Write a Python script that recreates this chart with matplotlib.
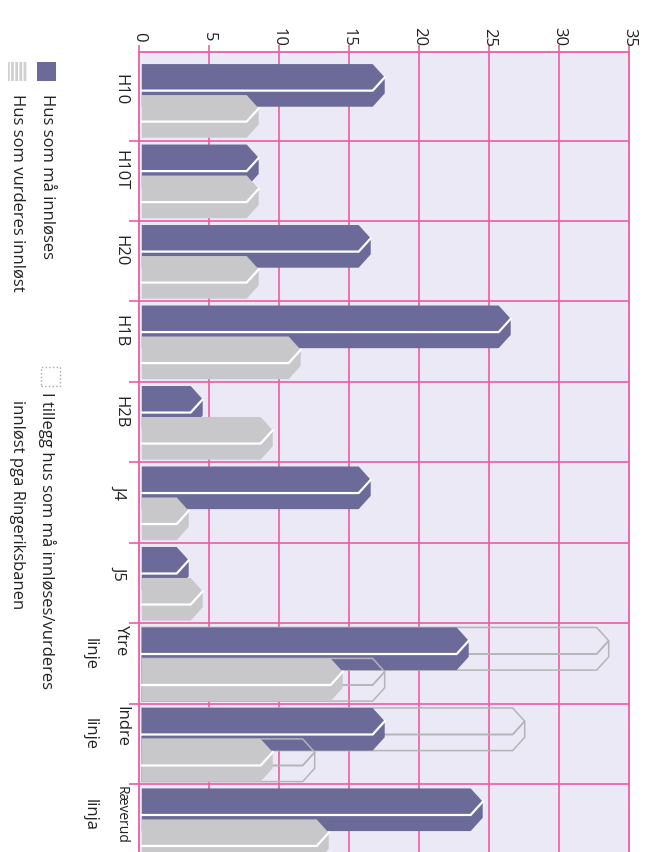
import matplotlib
matplotlib.use('Agg')
import matplotlib.pyplot as plt
from matplotlib.patches import Polygon, Rectangle
import matplotlib.transforms as mtransforms

# ---------------- data ----------------
categories = ['H10', 'H10T', 'H20', 'H1B', 'H2B', 'J4', 'J5',
              'Ytre\nlinje', 'Indre\nlinje', 'Ræverud\nlinja']
must_redeem = [17, 8, 16, 26, 4, 16, 3, 23, 17, 24]          # Hus som må innløses
considered = [8, 8, 8, 11, 9, 3, 4, 14, 9, 13]               # Hus som vurderes innløst
extra_must = [0, 0, 0, 0, 0, 0, 0, 10, 10, 0]                # I tillegg (må innløses)
extra_considered = [0, 0, 0, 0, 0, 0, 0, 3, 3, 0]            # I tillegg (vurderes)
value_ticks = [0, 5, 10, 15, 20, 25, 30, 35]
legend_labels = ['Hus som må innløses', 'Hus som vurderes innløst',
                 'I tillegg hus som må innløses/vurderes\ninnløst pga Ringeriksbanen']

# ---------------- style ----------------
DARK = '#6b6a99'
GREY = '#c8c8ca'
BG = '#ebe9f5'
PINK = '#ec5da3'
OUTLINE = '#b4b4b8'
FONT = 'Open Sans'
FS = 12
TXT = '#222222'

W, H = 652, 852
fig = plt.figure(figsize=(W / 100, H / 100), dpi=100)
fig.patch.set_facecolor('white')


def fx(px):
    return px / W


def fy(py):
    return 1 - py / H


ax = fig.add_axes([fx(139), fy(852), fx(629) - fx(139), fy(52) - fy(852)])
ax.set_xlim(0, 35)
ax.set_ylim(9.84, -0.1)
ax.set_facecolor(BG)

for s in ['left', 'top', 'right']:
    ax.spines[s].set_color(PINK)
    ax.spines[s].set_linewidth(1.3)
ax.spines['bottom'].set_visible(False)

ax.xaxis.tick_top()
ax.set_xticks(value_ticks)
ax.set_xticklabels([])
ax.tick_params(axis='x', which='both', direction='out', length=5, color=PINK,
               width=1.2, top=True, bottom=False)
ax.set_yticks(range(1, len(categories)))
ax.set_yticklabels([])
ax.tick_params(axis='y', direction='out', length=7, color=PINK, width=1.2)

for v in value_ticks[1:-1]:
    ax.axvline(v, color=PINK, lw=1.2, zorder=1)
for k in range(1, len(categories)):
    ax.axhline(k, color=PINK, lw=1.2, zorder=1)

# bar geometry (in band units / value units)
A = 0.86      # length of pointed tip
HF = 0.33     # front face height
D = 0.20      # depth (side face)
TIP = 0.55    # tip beyond value
X0 = 0.2      # small gap from axis
TOP_DARK = 0.05
TOP_GREY = 0.435


def shapes(x_end, top):
    t = x_end + TIP
    front = [(X0, top), (t - A, top), (t, top + HF / 2), (t - A, top + HF), (X0, top + HF)]
    side = [(X0, top + HF), (t - A, top + HF), (t, top + HF / 2), (t, top + HF / 2 + D),
            (t - A, top + HF + D), (X0, top + HF + D)]
    edge = [(X0, top + HF), (t - A, top + HF), (t, top + HF / 2)]
    return front, side, edge


def solid(x_end, top, color, z):
    front, side, edge = shapes(x_end, top)
    ax.add_patch(Polygon(side, closed=True, facecolor=color, edgecolor='none', zorder=z))
    ax.add_patch(Polygon(front, closed=True, facecolor=color, edgecolor='none', zorder=z + 0.1))
    xs, ys = zip(*edge)
    ax.plot(xs, ys, color='white', lw=1.6, zorder=z + 0.2, solid_joinstyle='miter')


def outline(x_end, top, z):
    front, side, edge = shapes(x_end, top)
    ax.add_patch(Polygon(side, closed=True, facecolor='none', edgecolor=OUTLINE, lw=1.1, zorder=z))
    ax.add_patch(Polygon(front, closed=True, facecolor='none', edgecolor=OUTLINE, lw=1.1, zorder=z))


for k in range(len(categories)):
    if extra_must[k] > 0:
        outline(must_redeem[k] + extra_must[k], k + TOP_DARK, 2)
    solid(must_redeem[k], k + TOP_DARK, DARK, 3)
    if extra_considered[k] > 0:
        outline(considered[k] + extra_considered[k], k + TOP_GREY, 4)
    solid(considered[k], k + TOP_GREY, GREY, 5)

# value tick labels (rotated)
tr_x = mtransforms.blended_transform_factory(ax.transData, fig.transFigure)
for v in value_ticks:
    ax.text(v, fy(37), str(v), transform=tr_x, rotation=-90, rotation_mode='anchor',
            ha='center', va='center', fontsize=FS, family=FONT, color=TXT, clip_on=False)

# category labels (rotated)
tr_y = mtransforms.blended_transform_factory(fig.transFigure, ax.transData)
for k, lab in enumerate(categories):
    lines = lab.split('\n')
    if len(lines) == 1:
        ax.text(fx(120), k + 0.37, lines[0], transform=tr_y, rotation=-90, rotation_mode='anchor',
                ha='center', va='center', fontsize=FS, family=FONT, color=TXT, clip_on=False)
    else:
        fs = FS if len(lines[0]) < 6 else 10
        ax.text(fx(121), k + 0.02, lines[0], transform=tr_y, rotation=-90, rotation_mode='anchor',
                ha='left', va='center', fontsize=fs, family=FONT, color=TXT, clip_on=False)
        ax.text(fx(90), k + 0.18, lines[1], transform=tr_y, rotation=-90, rotation_mode='anchor',
                ha='left', va='center', fontsize=FS, family=FONT, color=TXT, clip_on=False)

# legend (manual, rotated)
fig.add_artist(Rectangle((fx(37), fy(81)), 19 / W, 19 / H, transform=fig.transFigure,
                         facecolor=DARK, edgecolor='none'))
plt.rcParams['hatch.linewidth'] = 1.0
fig.add_artist(Rectangle((fx(8), fy(81)), 19 / W, 19 / H, transform=fig.transFigure,
                         facecolor='#cfcfd2', edgecolor='white', lw=0, hatch='||||'))
fig.add_artist(Rectangle((fx(41), fy(386)), 19 / W, 19 / H, transform=fig.transFigure,
                         facecolor='none', edgecolor='#a8a8a8', lw=1.0, linestyle=':'))

fig.text(fx(46), fy(94), legend_labels[0], rotation=-90, rotation_mode='anchor',
         ha='left', va='center', fontsize=FS, family=FONT, color=TXT)
fig.text(fx(17), fy(94), legend_labels[1], rotation=-90, rotation_mode='anchor',
         ha='left', va='center', fontsize=FS, family=FONT, color=TXT)
l3 = legend_labels[2].split('\n')
fig.text(fx(47), fy(392), l3[0], rotation=-90, rotation_mode='anchor',
         ha='left', va='center', fontsize=FS, family=FONT, color=TXT)
fig.text(fx(17), fy(400), l3[1], rotation=-90, rotation_mode='anchor',
         ha='left', va='center', fontsize=FS, family=FONT, color=TXT)

fig.savefig('out.png', dpi=100, facecolor='white')
